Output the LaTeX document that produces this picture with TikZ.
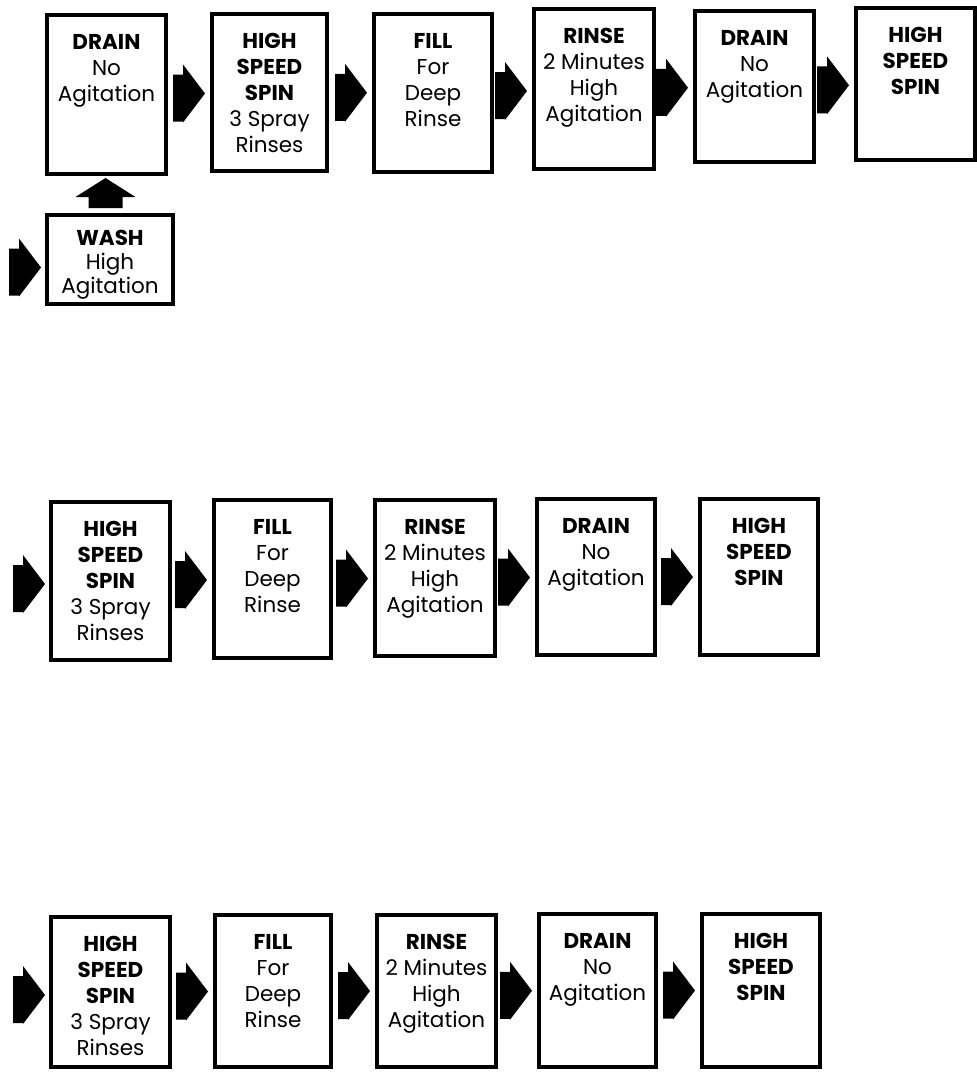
\documentclass[tikz,border=0pt]{standalone}
\usepackage{fontspec}
\setmainfont{Poppins}
\usetikzlibrary{calc}
\tikzset{
  x=1pt, y=-1pt,
  frame/.style={draw=black, line width=4pt, fill=white, inner sep=0pt, outer sep=0pt, anchor=north west},
  lbl/.style={anchor=north, align=center, inner sep=0pt, font=\fontsize{21.5}{26}\selectfont},
  tightlbl/.style={lbl, font=\fontsize{21.5}{24}\selectfont},
  pics/rarrow/.style={code={\fill[black] (-32,-19) -- (-22,-19) -- (-22,-29) -- (0,0) -- (-22,29) -- (-22,28) -- (-32,28) -- cycle;}},
  pics/uarrow/.style={code={\fill[black] (-17,30) -- (-17,19) -- (-30,19) -- (0,0) -- (30,19) -- (17,19) -- (17,30) -- cycle;}},
}
\newcommand\wbox[7][19]{%
  \node[frame, minimum width={#5-#3}, minimum height={#6-#4}] (#2) at (#3,#4) {};
  \node[lbl] (#2t) at ([yshift=-#1pt]#2.north) {#7};
}
\newcommand\flowarrow[2]{%
  \coordinate (m#1#2) at ($(#1.center)!0.5!(#2.center)$);
  \path (m#1#2 -| #2.west) ++(-7,0) pic {rarrow};
}
\newcommand\drainT{\textbf{DRAIN}\\No\\Agitation}
\newcommand\spinT{\textbf{HIGH}\\\textbf{SPEED}\\\textbf{SPIN}}
\newcommand\spinsprayT{\textbf{HIGH}\\\textbf{SPEED}\\\textbf{SPIN}\\3 Spray\\Rinses}
\newcommand\fillT{\textbf{FILL}\\For\\Deep\\Rinse}
\newcommand\rinseT{\textbf{RINSE}\\2 Minutes\\High\\Agitation}
\begin{document}
\begin{tikzpicture}
\useasboundingbox[fill=white] (0,0) rectangle (977,1072);
% row 1
\wbox{a1}{47}{15}{166}{174}{\drainT}
\wbox{a2}{212}{14}{327}{171}{\spinsprayT}
\wbox{a3}{374}{14}{492}{172}{\fillT}
\wbox{a4}{534}{9}{654}{169}{\rinseT}
\wbox{a5}{695}{11}{814}{162}{\drainT}
\wbox{a6}{856}{8}{975}{160}{\spinT}
\node[frame, minimum width=126, minimum height=89] (wash) at (47,215) {};
\node[tightlbl] (washt) at ([yshift=-15pt]wash.north) {\textbf{WASH}\\High\\Agitation};
\flowarrow{a1}{a2}
\flowarrow{a2}{a3}
\flowarrow{a3}{a4}
\flowarrow{a4}{a5}
\flowarrow{a5}{a6}
\path (a1.south) ++(-1,4) pic {uarrow};
\path (wash.west) ++(-6,8) pic {rarrow};
% row 2
\wbox{b1}{51}{502}{170}{660}{\spinsprayT}
\wbox{b2}{214}{500}{331}{658}{\fillT}
\wbox{b3}{375}{500}{495}{656}{\rinseT}
\wbox{b4}{537}{499}{655}{655}{\drainT}
\wbox{b5}{700}{499}{818}{655}{\spinT}
\path (b1.west) ++(-6,3) pic {rarrow};
\flowarrow{b1}{b2}
\flowarrow{b2}{b3}
\flowarrow{b3}{b4}
\flowarrow{b4}{b5}
% row 3
\wbox{c1}{51}{917}{170}{1067}{\spinsprayT}
\wbox{c2}{215}{915}{331}{1067}{\fillT}
\wbox{c3}{377}{915}{496}{1067}{\rinseT}
\wbox{c4}{539}{914}{656}{1067}{\drainT}
\wbox{c5}{702}{914}{820}{1067}{\spinT}
\path (c1.west) ++(-6,3) pic {rarrow};
\flowarrow{c1}{c2}
\flowarrow{c2}{c3}
\flowarrow{c3}{c4}
\flowarrow{c4}{c5}
\end{tikzpicture}
\end{document}
